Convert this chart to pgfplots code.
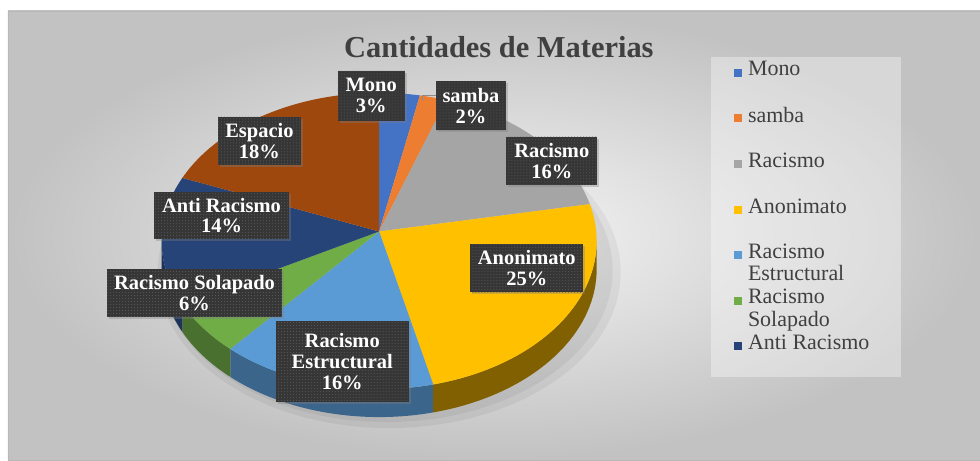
\documentclass[border=0pt]{standalone}
\usepackage{pgfplots}
\pgfplotsset{compat=1.18}
\usepackage{fontspec}
\setmainfont{Liberation Serif}
\usetikzlibrary{patterns,shadows}
\definecolor{c0}{HTML}{4472C4}
\definecolor{c1}{HTML}{ED7D31}
\definecolor{c2}{HTML}{A5A5A5}
\definecolor{c3}{HTML}{FFC000}
\definecolor{c4}{HTML}{5B9BD5}
\definecolor{c5}{HTML}{70AD47}
\definecolor{c6}{HTML}{264478}
\definecolor{c7}{HTML}{9E480E}
\colorlet{s0}{c0!60!black}
\colorlet{s1}{c1!60!black}
\colorlet{s2}{c2!60!black}
\colorlet{s3}{c3!50!black}
\colorlet{s4}{c4!65!black}
\colorlet{s5}{c5!65!black}
\colorlet{s6}{c6!75!black}
\colorlet{s7}{c7!65!black}
\definecolor{txt}{HTML}{404040}
\definecolor{labelbg}{HTML}{363636}
\tikzset{lbl/.style={fill=labelbg, text=white, font=\bfseries\fontsize{20.5}{21}\selectfont,
  align=center, inner sep=0pt,
  drop shadow={shadow xshift=2pt,shadow yshift=-2pt,opacity=0.35},
  postaction={pattern=dots, pattern color=white!20!labelbg}}}
\begin{document}
\begin{tikzpicture}
\begin{axis}[x=1pt,y=1pt,xmin=0,xmax=980,ymin=0,ymax=459,
  scale only axis, hide axis, clip=false,
  legend style={at={(0.75,0.8693)}, anchor=north west, fill=none,
    draw=none, inner xsep=0pt, inner ysep=0pt,
    font=\fontsize{22}{22.5}\selectfont, text=txt, row sep=4pt, column sep=5pt,
    nodes={inner sep=1.5pt}},
  legend cell align=left,
  legend image code/.code={\fill[#1, draw=none, fill opacity=1] (0pt,4pt) rectangle (8pt,12pt);},
]
% background
\fill[white] (axis cs:0,0) rectangle (axis cs:980,459);
\shade[inner color=white!96!black, outer color=black!24, draw=black!28] (axis cs:8,-2) rectangle (axis cs:982,448);
% legend panel
\fill[white, opacity=0.35] (axis cs:713,81) rectangle (axis cs:903,402);
\addlegendimage{fill=c0}\addlegendentry[align=left]{Mono\\\mbox{}}
\addlegendimage{fill=c1}\addlegendentry[align=left]{samba\\\mbox{}}
\addlegendimage{fill=c2}\addlegendentry[align=left]{Racismo\\\mbox{}}
\addlegendimage{fill=c3}\addlegendentry[align=left]{Anonimato\\\mbox{}}
\addlegendimage{fill=c4}\addlegendentry[align=left]{Racismo\\Estructural}
\addlegendimage{fill=c5}\addlegendentry[align=left]{Racismo\\Solapado}
\addlegendimage{fill=c6}\addlegendentry[align=left]{Anti Racismo\\\mbox{}}
% pie geometry (pixels): ellipse centre, radii, apex, depth
\def\cx{380}\def\cy{217.5}\def\rx{218}\def\ry{148.5}\def\ax{380}\def\ay{227}\def\dep{28}
% soft shadow under the pie
\fill[black, opacity=0.05] (axis cs:390,186) ellipse[x radius=232, y radius=156];
\fill[black, opacity=0.05] (axis cs:388,188) ellipse[x radius=226, y radius=152];
% sides (front half)
\def\cum{0}\def\idx{0}
\pgfplotsforeachungrouped \v in {3,2,16,25,16,6,14,18} {
  \pgfmathsetmacro{\ta}{90-3.6*\cum}
  \pgfmathsetmacro{\tb}{90-3.6*(\cum+\v)}
  \pgfmathsetmacro{\sa}{min(\ta,0)}
  \pgfmathsetmacro{\sb}{max(\tb,-180)}
  \pgfmathparse{\sa>\sb?1:0}
  \ifnum\pgfmathresult=1
    \pgfmathsetmacro{\xa}{\cx+\rx*cos(\sa)}
    \pgfmathsetmacro{\ya}{\cy+\ry*sin(\sa)}
    \edef\doit{\noexpand\fill[s\idx] (axis cs:\xa,\ya) arc[start angle=\sa, end angle=\sb, x radius=\rx, y radius=\ry] -- ++(0,-\dep) arc[start angle=\sb, end angle=\sa, x radius=\rx, y radius=\ry] -- cycle;}
    \doit
  \fi
  \pgfmathsetmacro{\cum}{\cum+\v}
  \pgfmathtruncatemacro{\idx}{\idx+1}
}
% top faces
\def\cum{0}\def\idx{0}
\pgfplotsforeachungrouped \v in {3,2,16,25,16,6,14,18} {
  \pgfmathsetmacro{\ta}{90-3.6*\cum}
  \pgfmathsetmacro{\tb}{90-3.6*(\cum+\v)}
  \pgfmathsetmacro{\xa}{\cx+\rx*cos(\ta)}
  \pgfmathsetmacro{\ya}{\cy+\ry*sin(\ta)}
  \edef\doit{\noexpand\fill[c\idx] (axis cs:\ax,\ay) -- (axis cs:\xa,\ya) arc[start angle=\ta, end angle=\tb, x radius=\rx, y radius=\ry] -- cycle;}
  \doit
  \pgfmathsetmacro{\cum}{\cum+\v}
  \pgfmathtruncatemacro{\idx}{\idx+1}
}
% title
\node[font=\bfseries\fontsize{30.5}{36}\selectfont, text=txt] at (axis cs:500,412) {Cantidades de Materias};
% leader line for samba
\draw[black!45, line width=0.8pt] (axis cs:423,358) -- (axis cs:423,363) -- (axis cs:437,363);
% data labels
\node[lbl, minimum width=67pt, minimum height=50pt] at (axis cs:372,363) {Mono\\3\%};
\node[lbl, minimum width=70pt, minimum height=49pt] at (axis cs:472,353) {samba\\2\%};
\node[lbl, minimum width=91pt, minimum height=48pt] at (axis cs:553,298) {Racismo\\16\%};
\node[lbl, minimum width=113pt, minimum height=48pt] at (axis cs:528,190) {Anonimato\\25\%};
\node[lbl, minimum width=133pt, minimum height=81pt] at (axis cs:343,97) {Racismo\\Estructural\\16\%};
\node[lbl, minimum width=176pt, minimum height=48pt] at (axis cs:195,165) {Racismo Solapado\\6\%};
\node[lbl, minimum width=135pt, minimum height=47pt] at (axis cs:222,243) {Anti Racismo\\14\%};
\node[lbl, minimum width=84pt, minimum height=48pt] at (axis cs:260,318) {Espacio\\18\%};
\end{axis}
\end{tikzpicture}
\end{document}
